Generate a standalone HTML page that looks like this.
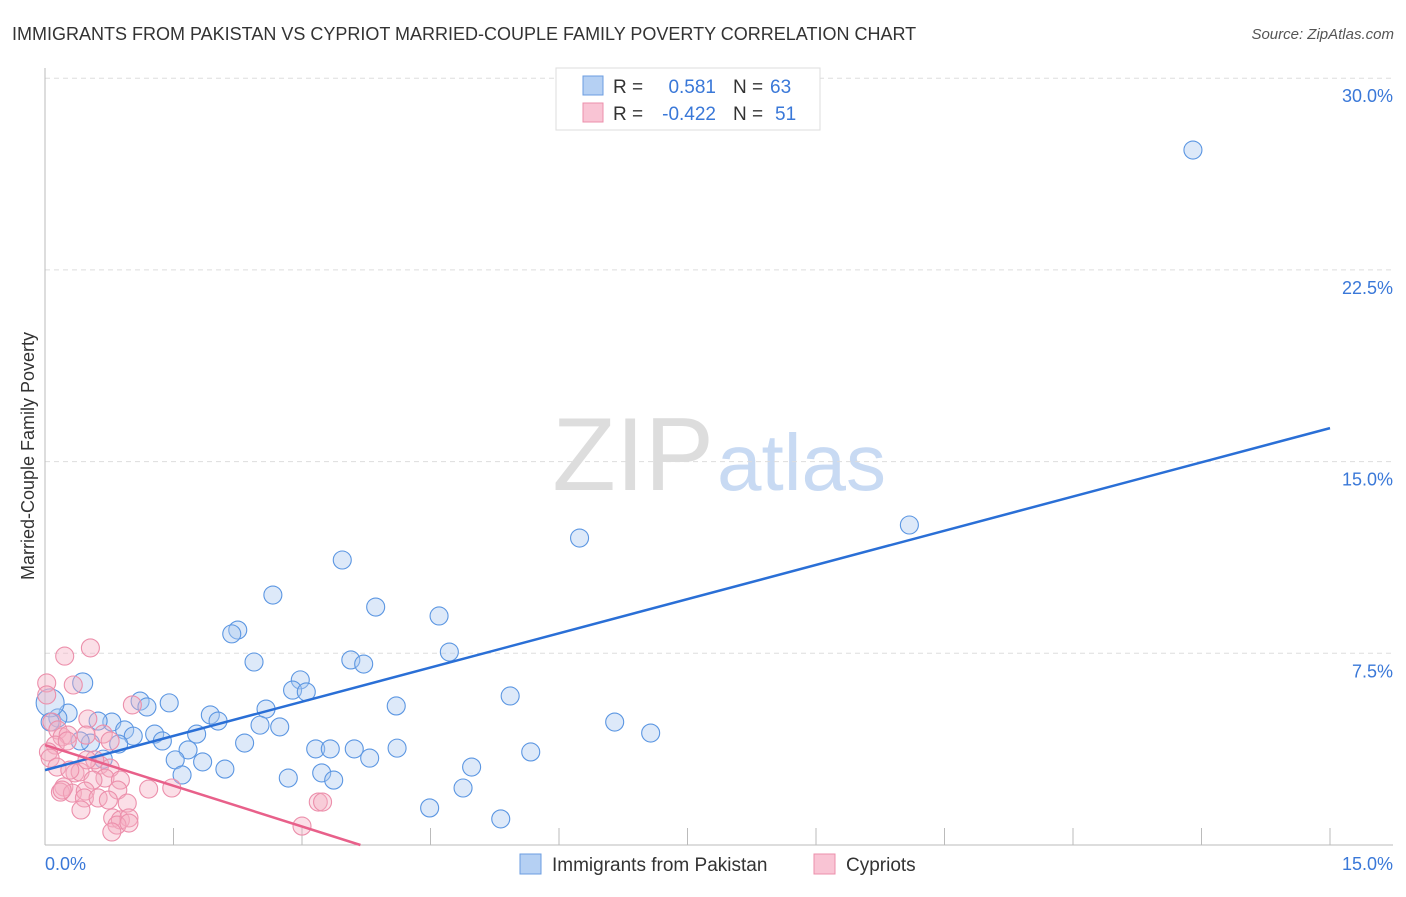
<!DOCTYPE html>
<html><head><meta charset="utf-8"><style>
body{margin:0;background:#fff;font-family:"Liberation Sans",sans-serif;}
svg text{font-family:"Liberation Sans",sans-serif;}
</style></head><body>
<svg id="chart" width="1406" height="892">
<text x="12" y="40" font-size="18" fill="#333">IMMIGRANTS FROM PAKISTAN VS CYPRIOT MARRIED-COUPLE FAMILY POVERTY CORRELATION CHART</text>
<text x="1394" y="39" font-size="15" fill="#555" font-style="italic" text-anchor="end">Source: ZipAtlas.com</text>
<text x="714" y="490" font-size="104" fill="#ddd" font-family="Liberation Serif,serif" text-anchor="end">ZIP</text>
<text x="717" y="490" font-size="80" fill="#c8daf3">atlas</text>
<g id="grid"></g>
<g id="axes"></g>
<g id="marks"></g>
<text transform="translate(34,456) rotate(-90)" font-size="18" fill="#333" text-anchor="middle">Married-Couple Family Poverty</text>
<text x="45" y="870" font-size="18" fill="#3a78d8">0.0%</text>
<text x="1393" y="870" font-size="18" fill="#3a78d8" text-anchor="end">15.0%</text>
<g>
<rect x="556" y="68" width="264" height="62" fill="#fff" stroke="#ddd"/>
<rect x="583" y="76" width="20" height="19" fill="#b5d0f3" stroke="#6b9de0"/>
<rect x="583" y="103" width="20" height="19" fill="#f9c4d4" stroke="#ec8fab"/>
<text x="613" y="93" font-size="19" fill="#333">R = </text><text x="716" y="93" font-size="19" fill="#3a78d8" text-anchor="end">0.581</text>
<text x="733" y="93" font-size="19" fill="#333">N = </text><text x="770" y="93" font-size="19" fill="#3a78d8">63</text>
<text x="613" y="120" font-size="19" fill="#333">R = </text><text x="716" y="120" font-size="19" fill="#3a78d8" text-anchor="end">-0.422</text>
<text x="733" y="120" font-size="19" fill="#333">N = </text><text x="775" y="120" font-size="19" fill="#3a78d8">51</text>
</g>
<g>
<rect x="520" y="854" width="21" height="20" fill="#b5d0f3" stroke="#6b9de0"/>
<text x="552" y="871" font-size="19" fill="#333">Immigrants from Pakistan</text>
<rect x="814" y="854" width="21" height="20" fill="#f9c4d4" stroke="#ec8fab"/>
<text x="846" y="871" font-size="19" fill="#333">Cypriots</text>
</g>
</svg>
<script>
const yTicks=[7.5,15,22.5,30];
const yTickLabels=["7.5%","15.0%","22.5%","30.0%"];
const xTicks=[0,1.5,3,4.5,6,7.5,9,10.5,12,13.5,15];
const blueX=[13.40,10.09,6.24,3.47,2.66,3.86,4.60,2.25,2.18,4.72,2.44,3.57,3.72,2.98,2.89,3.05,0.44,5.43,1.11,1.45,1.19,4.10,2.58,1.93,2.02,0.27,0.15,0.06,0.06,0.78,0.62,6.65,2.74,2.51,0.93,1.28,1.77,7.07,1.03,1.37,0.53,0.41,0.86,2.33,1.67,3.16,3.33,3.61,4.11,5.67,0.68,1.52,1.84,3.79,2.10,4.98,3.23,1.60,2.84,3.37,4.88,4.49,5.32];
const blueY=[27.19,12.52,12.01,11.15,9.78,9.31,8.96,8.41,8.26,7.55,7.16,7.24,7.08,6.46,6.06,5.99,6.34,5.83,5.63,5.56,5.40,5.44,5.32,5.09,4.85,5.16,4.97,5.56,4.81,4.81,4.85,4.81,4.62,4.69,4.50,4.34,4.34,4.38,4.26,4.07,3.99,4.07,3.95,3.99,3.72,3.76,3.76,3.76,3.79,3.64,3.36,3.33,3.25,3.40,2.97,3.05,2.82,2.74,2.62,2.54,2.23,1.45,1.02];
const blueSize=[9,9,9,9,9,9,9,9,9,9,9,9,9,9,9,9,10,9,9,9,9,9,9,9,9,9,9,14,9,9,9,9,9,9,9,9,9,9,9,9,9,9,9,9,9,9,9,9,9,9,9,9,9,9,9,9,9,9,9,9,9,9,9];
const pinkX=[0.02,0.23,0.53,0.33,0.02,0.08,0.15,0.20,0.27,0.12,0.26,0.04,0.50,0.68,0.48,0.06,0.64,0.76,0.14,0.35,0.41,0.70,0.56,0.88,0.22,0.18,0.32,0.47,0.85,1.21,1.48,0.46,0.62,0.96,0.42,3.19,3.24,0.79,0.88,0.98,0.84,0.98,0.78,3.00,0.58,1.02,0.20,0.76,0.29,0.74,0.49];
const pinkY=[6.34,7.39,7.71,6.26,5.87,4.81,4.50,4.23,4.30,3.91,4.07,3.64,4.93,4.34,4.30,3.40,3.13,3.01,3.05,2.82,2.86,2.62,2.54,2.54,2.27,2.07,2.03,2.11,2.15,2.19,2.23,1.84,1.84,1.64,1.37,1.68,1.68,1.06,0.98,1.06,0.78,0.86,0.51,0.74,3.33,5.48,2.15,4.07,2.93,1.76,3.33];
const blueTrend=[2.93,16.31]; // y at x=0 and x=15
const pinkTrend=[3.91,-1.062]; // intercept, slope
const NS="http://www.w3.org/2000/svg";
const sx=v=>45+v*(1285/15);
const sy=v=>845-v*(191.7/7.5);
function mk(tag,attrs,parent){const e=document.createElementNS(NS,tag);for(const k in attrs)e.setAttribute(k,attrs[k]);document.getElementById(parent).appendChild(e);return e;}
yTicks.forEach((t,i)=>{
  const l=mk('line',{x1:45,x2:1393,y1:sy(t),y2:sy(t),stroke:'#ddd','stroke-dasharray':'5,4'},'grid');
  
  
  const tx=mk('text',{x:1393,y:sy(t)+24,'font-size':18,fill:'#3a78d8','text-anchor':'end'},'grid');
  tx.textContent=yTickLabels[i];
  
  
});
const ya=mk('line',{x1:45,x2:45,y1:68,y2:845,stroke:'#bbb'},'axes');


const xa=mk('line',{x1:45,x2:1393,y1:845,y2:845,stroke:'#bbb'},'axes');


xTicks.forEach(t=>{
  const l=mk('line',{x1:sx(t),x2:sx(t),y1:828,y2:845,stroke:'#bbb'},'axes');
  
  
});
blueX.forEach((x,i)=>{
  const c=mk('circle',{cx:sx(x),cy:sy(blueY[i]),r:blueSize[i],fill:'rgba(170,200,240,0.4)',stroke:'#5b96e2','stroke-width':1.1},'marks');
  
  
});
pinkX.forEach((x,i)=>{
  const c=mk('circle',{cx:sx(x),cy:sy(pinkY[i]),r:9,fill:'rgba(245,175,195,0.4)',stroke:'#ec8fab','stroke-width':1.1},'marks');
  
  
});
const bl=mk('line',{x1:sx(0),y1:sy(blueTrend[0]),x2:sx(15),y2:sy(blueTrend[1]),stroke:'#2a6fd6','stroke-width':2.5},'marks');


const xEnd=-pinkTrend[0]/pinkTrend[1];
const pl=mk('line',{x1:sx(0),y1:sy(pinkTrend[0]),x2:sx(xEnd),y2:sy(0),stroke:'#e8608a','stroke-width':2.5},'marks');


</script>
</body></html>
